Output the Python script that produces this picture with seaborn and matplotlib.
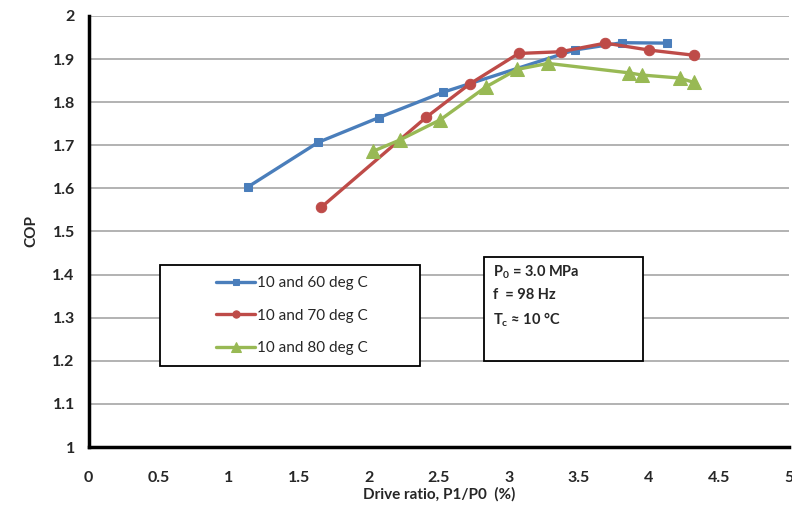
import pandas as pd
import matplotlib
matplotlib.use('Agg')
import matplotlib.pyplot as plt
import seaborn as sns
from matplotlib.patches import Rectangle

# Datos
x_60 = [1.14, 1.64, 2.07, 2.53, 3.47, 3.81, 4.13]
cop_60 = [1.604, 1.707, 1.764, 1.823, 1.921, 1.938, 1.937]

x_70 = [1.66, 2.41, 2.72, 3.07, 3.37, 3.69, 4.00, 4.32]
cop_70 = [1.556, 1.765, 1.842, 1.913, 1.917, 1.937, 1.921, 1.909]

x_80 = [2.03, 2.22, 2.51, 2.84, 3.06, 3.28, 3.86, 3.95, 4.22, 4.32]
cop_80 = [1.686, 1.712, 1.759, 1.836, 1.876, 1.890, 1.868, 1.863, 1.856, 1.846]

series = ['10 and 60 deg C', '10 and 70 deg C', '10 and 80 deg C']
colores = ['#4A7EBB', '#BE4B48', '#98B954']
marcadores = ['s', 'o', '^']
tamanos = [6, 7.5, 9.5]

sns.set_style('white')
plt.rcParams['font.family'] = ['Lato', 'DejaVu Sans']
plt.rcParams['mathtext.fontset'] = 'custom'
plt.rcParams['mathtext.rm'] = 'Lato:bold'
plt.rcParams['mathtext.default'] = 'rm'

df = pd.concat([
    pd.DataFrame({'x': x_60, 'COP': cop_60, 'serie': series[0]}),
    pd.DataFrame({'x': x_70, 'COP': cop_70, 'serie': series[1]}),
    pd.DataFrame({'x': x_80, 'COP': cop_80, 'serie': series[2]}),
])

fig = plt.figure(figsize=(7.92, 5.15), dpi=100)
ax = fig.add_axes([0.112, 0.132, 0.884, 0.837])

for s, c, m, ms in zip(series, colores, marcadores, tamanos):
    sub = df[df['serie'] == s]
    sns.lineplot(data=sub, x='x', y='COP', ax=ax, color=c, marker=m,
                 markersize=ms, markeredgecolor=c, linewidth=2.4,
                 sort=False, label=s, zorder=3)

ax.set_xlim(0, 5)
ax.set_ylim(1, 2)
ax.set_xticks([i * 0.5 for i in range(11)])
ax.set_xticklabels(['0', '0.5', '1', '1.5', '2', '2.5', '3', '3.5', '4', '4.5', '5'])
ax.set_yticks([1 + i * 0.1 for i in range(11)])
ax.set_yticklabels(['1', '1.1', '1.2', '1.3', '1.4', '1.5', '1.6', '1.7', '1.8', '1.9', '2'])
ax.yaxis.grid(True, color='#A6A6A6', linewidth=1.2)
ax.xaxis.grid(False)
ax.set_axisbelow(True)

for lado in ['top', 'right']:
    ax.spines[lado].set_visible(False)
for lado in ['left', 'bottom']:
    ax.spines[lado].set_color('black')
    ax.spines[lado].set_linewidth(2.5)

ax.tick_params(axis='both', direction='out', length=4, width=2, color='black',
               labelsize=11.5, pad=6)
for t in ax.get_xticklabels() + ax.get_yticklabels():
    t.set_fontweight('bold')
ax.tick_params(axis='x', pad=13)

ax.set_xlabel('Drive ratio, P1/P0  (%)', fontsize=11, fontweight='bold', labelpad=2)
ax.set_ylabel('COP', fontsize=11, fontweight='bold', labelpad=10)

# Caja de la leyenda
ax.add_patch(Rectangle((0.507, 1.188), 1.857, 0.234, facecolor='white',
                       edgecolor='black', linewidth=1.3, zorder=4))
leg = ax.legend(loc='center', bbox_to_anchor=(1.45, 1.305), bbox_transform=ax.transData,
                frameon=False, fontsize=11, labelspacing=1.2, handlelength=2.6,
                handletextpad=0.1, markerscale=0.7)
leg.set_zorder(5)

# Caja de condiciones
ax.add_patch(Rectangle((2.82, 1.200), 1.14, 0.241, facecolor='white',
                       edgecolor='black', linewidth=1.3, zorder=4))
ax.text(2.89, 1.425, 'P$_0$ = 3.0 MPa\nf  = 98 Hz\nT$_c$ ≈ 10 °C', fontsize=10.5,
        fontweight='bold', va='top', ha='left', linespacing=1.6, zorder=5)

fig.savefig('out.png', dpi=100)
